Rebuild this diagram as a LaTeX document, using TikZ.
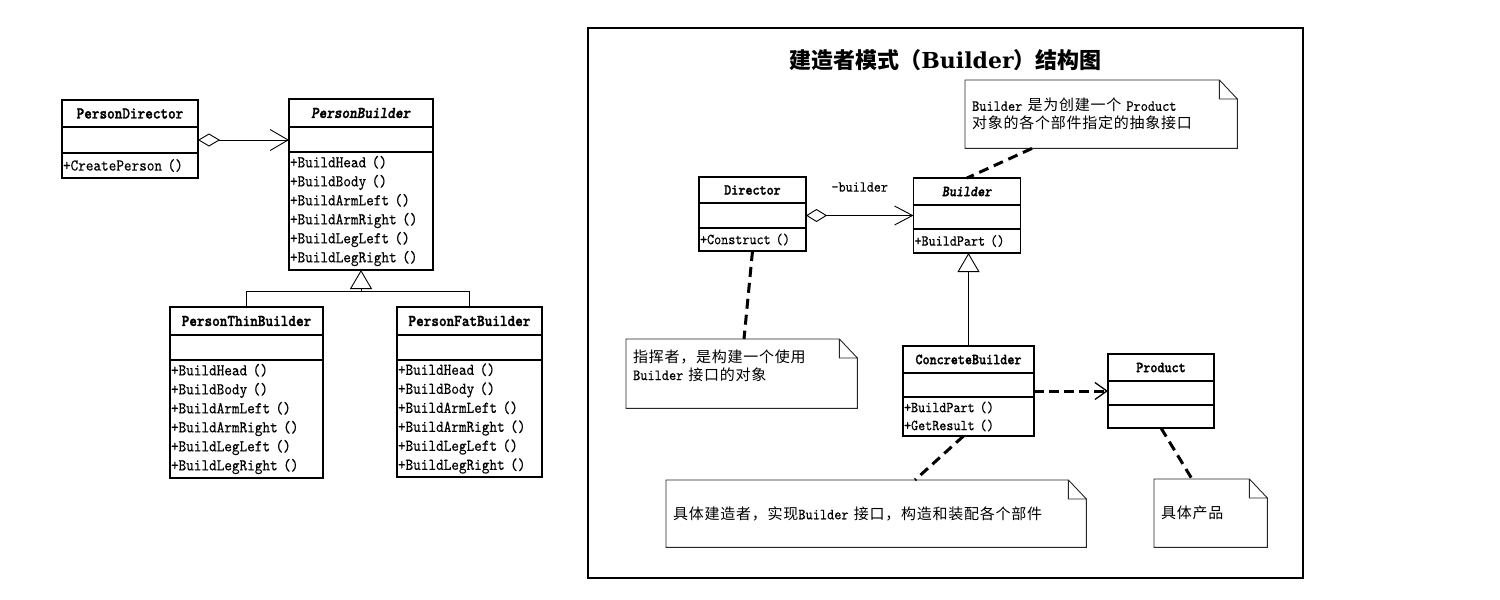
\documentclass[tikz,border=0pt]{standalone}
\usepackage{fontspec}
\setmonofont{lmmono10-regular.otf}[
  BoldFont=lmmonolt10-bold.otf,
  ItalicFont=lmmono10-italic.otf,
  BoldItalicFont=lmmonolt10-boldoblique.otf,
  FakeStretch=0.88,
  UprightFeatures={FakeBold=0.2},
  BoldFeatures={FakeBold=1.6},
  BoldItalicFeatures={FakeBold=1.6}]
\newfontfamily\cjk[LetterSpace=5]{Noto Sans CJK SC}
\newfontfamily\cjktitle{Noto Sans CJK SC}
\newfontfamily\titlerm{DejaVu Serif}
\usetikzlibrary{arrows.meta,positioning}

\newcommand\bigmono{\ttfamily\fontsize{16.5}{19}\selectfont}
\newcommand\smallmono{\ttfamily\fontsize{15.3}{18}\selectfont}
\newcommand\notemono{\ttfamily\fontsize{15.5}{18}\selectfont}
\newcommand\zh[1]{{\cjk\fontsize{15}{18}\selectfont #1}}
\newcommand\personops{+BuildHead ()\\+BuildBody ()\\+BuildArmLeft ()\\+BuildArmRight ()\\+BuildLegLeft ()\\+BuildLegRight ()}

\tikzset{
  clsbox/.style={draw,line width=1.1pt,outer sep=0pt,inner sep=1pt,minimum width=#1},
  opsbox/.style={draw,line width=1.1pt,outer sep=0pt,inner sep=1pt,align=left},
  agg/.style={line width=0.9pt,{Diamond[open,length=22pt,width=13pt]}-{Straight Barb[length=18pt,width=21pt]}},
  inh/.style={line width=0.9pt,-{Triangle[open,length=19pt,width=22pt]}},
  dep/.style={line width=3pt,dash pattern=on 10pt off 5pt,-{Straight Barb[length=12pt,width=17pt,line width=1.3pt]}},
  notelink/.style={line width=3pt,dash pattern=on 10pt off 6pt},
  notebox/.style={anchor=north west,inner xsep=7pt,inner ysep=0pt,align=left,font=\notemono},
  noteline/.style={line width=0.9pt,black!85}
}

\begin{document}
\begin{tikzpicture}[x=1pt,y=-1pt]
\fill[white] (0,0) rectangle (1500,600);
\useasboundingbox (0,0) rectangle (1500,600);

% left: person builder
\begin{scope}[every node/.append style={font=\bigmono}]
\node[clsbox=136pt,minimum height=27pt,anchor=north west] (pd-h) at (62,100) {\textbf{PersonDirector}};
\node[clsbox=136pt,minimum height=26pt,below=0pt of pd-h] (pd-a) {};
\node[opsbox,text width=134pt,minimum height=25pt,below=0pt of pd-a] (pd-o) {+CreatePerson ()};

\node[clsbox=144pt,minimum height=28pt,anchor=north west] (pb-h) at (289,99) {\textbf{\textit{PersonBuilder}}};
\node[clsbox=144pt,minimum height=25pt,below=0pt of pb-h] (pb-a) {};
\node[opsbox,text width=142pt,minimum height=118pt,below=0pt of pb-a] (pb-o) {\personops};

\node[clsbox=153pt,minimum height=28pt,anchor=north west] (thin-h) at (170,307) {\textbf{PersonThinBuilder}};
\node[clsbox=153pt,minimum height=25pt,below=0pt of thin-h] (thin-a) {};
\node[opsbox,text width=151pt,minimum height=118pt,below=0pt of thin-a] (thin-o) {\personops};

\node[clsbox=145pt,minimum height=28pt,anchor=north west] (fat-h) at (397,307) {\textbf{PersonFatBuilder}};
\node[clsbox=145pt,minimum height=25pt,below=0pt of fat-h] (fat-a) {};
\node[opsbox,text width=143pt,minimum height=117pt,below=0pt of fat-a] (fat-o) {\personops};
\end{scope}

\draw[agg] (pd-a.east) -- (pd-a.east -| pb-a.west);
\coordinate (lj) at ([yshift=-21pt]pb-o.south);
\draw[inh] (thin-h.north) |- (lj) -- (pb-o.south);
\draw[line width=0.9pt] (fat-h.north) |- (lj);

% right: structure of the pattern
\draw[line width=1.3pt] (588,28) rectangle (1303,578);
\node[font=\fontsize{22}{26}\selectfont] (title) at (945.5,60)
  {{\cjktitle\bfseries 建造者模式（}{\titlerm\bfseries Builder}{\cjktitle\bfseries ）结构图}};

\begin{scope}[every node/.append style={font=\smallmono}]
\node[clsbox=107pt,minimum height=26pt,anchor=north west] (dir-h) at (699,177) {\textbf{Director}};
\node[clsbox=107pt,minimum height=25pt,below=0pt of dir-h] (dir-a) {};
\node[opsbox,text width=105pt,minimum height=23pt,below=0pt of dir-a] (dir-o) {+Construct ()};

\node[clsbox=107pt,minimum height=27pt,anchor=north west] (bld-h) at (913.5,178) {\textbf{\textit{Builder}}};
\node[clsbox=107pt,minimum height=24pt,below=0pt of bld-h] (bld-a) {};
\node[opsbox,text width=105pt,minimum height=24pt,below=0pt of bld-a] (bld-o) {+BuildPart ()};

\node[clsbox=131pt,minimum height=27pt,anchor=north west] (cb-h) at (903,346) {\textbf{ConcreteBuilder}};
\node[clsbox=131pt,minimum height=24pt,below=0pt of cb-h] (cb-a) {};
\node[opsbox,text width=129pt,minimum height=39pt,below=0pt of cb-a] (cb-o) {+BuildPart ()\\+GetResult ()};

\node[clsbox=106pt,minimum height=27pt,anchor=north west] (prod-h) at (1108,354) {\textbf{Product}};
\node[clsbox=106pt,minimum height=24pt,below=0pt of prod-h] (prod-a) {};
\node[clsbox=106pt,minimum height=23pt,below=0pt of prod-a] (prod-o) {};
\end{scope}

\draw[agg,{Diamond[open,length=21pt,width=13pt]}-{Straight Barb[length=18pt,width=19pt]}]
  (dir-a.east) -- (dir-a.east -| bld-a.west) node[midway,above=20pt,font=\smallmono] (rolename) {-builder};
\draw[inh] (cb-h.north) -- (cb-h.north |- bld-o.south);
\draw[dep] ([yshift=-6pt]cb-a.east) -- ([yshift=-6pt]cb-a.east -| prod-a.west);

% notes
\node[notebox,text width=258pt,minimum height=68pt] (n1) at (965,80)
  {Builder \zh{是为创建一个} Product\\\zh{对象的各个部件指定的抽象接口}};
\node[notebox,text width=217pt,minimum height=69pt] (n2) at (626,339)
  {\zh{指挥者，是构建一个使用}\\Builder \zh{接口的对象}\\\mbox{}};
\node[notebox,text width=406pt,minimum height=67pt] (n3) at (666,480)
  {\zh{具体建造者，实现}Builder \zh{接口，构造和装配各个部件}};
\node[notebox,text width=99pt,minimum height=68pt] (n4) at (1154,479)
  {\zh{具体产品}};
\foreach \n in {n1,n2,n3,n4}
  \draw[noteline] (\n.south west) -- (\n.north west) -- ([xshift=-18pt]\n.north east)
    -- ([yshift=-19pt]\n.north east) -- (\n.south east) -- cycle
    ([xshift=-18pt]\n.north east) |- ([yshift=-19pt]\n.north east);

\draw[notelink] ([xshift=67pt]n1.south west) -- (bld-h.north);
\draw[notelink] (dir-o.south) -- ([xshift=118pt]n2.north west);
\draw[notelink] ([xshift=-5pt]cb-o.south) -- ([xshift=249pt]n3.north west);
\draw[notelink] (prod-o.south) -- ([xshift=38pt]n4.north west);
\end{tikzpicture}
\end{document}
